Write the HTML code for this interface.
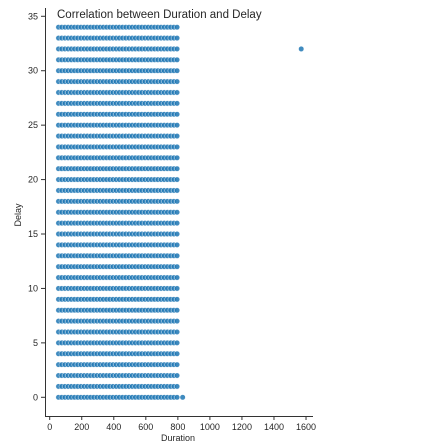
<!DOCTYPE html>
<html><head><meta charset="utf-8"><style>
body{margin:0;background:#fff;width:421px;height:447px;overflow:hidden}
svg{display:block;font-family:"Liberation Sans","DejaVu Sans",sans-serif}
</style></head><body>
<svg id="chart" width="421" height="447" viewBox="0 0 421 447">
<text x="57" y="18" font-size="11.5" fill="#262626">Correlation between Duration and Delay</text>
<line x1="45.5" y1="8" x2="45.5" y2="416" stroke="#333" stroke-width="1"/>
<line x1="45" y1="416.5" x2="313" y2="416.5" stroke="#333" stroke-width="1"/>
<text x="178" y="441" font-size="9" text-anchor="middle" fill="#262626">Duration</text>
<text transform="translate(21,215) rotate(-90)" font-size="9" text-anchor="middle" fill="#262626">Delay</text>
<g id="ticks"></g><g id="pts"></g>
</svg>
<script>
const xTicks=[0,200,400,600,800,1000,1200,1400,1600];
const yTicks=[0,5,10,15,20,25,30,35];
const delays=[0,1,2,3,4,5,6,7,8,9,10,11,12,13,14,15,16,17,18,19,20,21,22,23,24,25,26,27,28,29,30,31,32,33,34];
const durations=[55,75,95,115,135,155,175,195,215,235,255,275,295,315,335,355,375,395,415,435,455,475,495,515,535,555,575,595,615,635,655,675,695,715,735,755,775,795];
const extraX=[830,1570];
const extraY=[0,32];
const NS="http://www.w3.org/2000/svg";
function xs(v){return 49.7+v*0.1602;}
function ys(v){return 397.3-v*10.886;}
const tg=document.getElementById('ticks'),pg=document.getElementById('pts');
xTicks.forEach(t=>{
 const l=document.createElementNS(NS,'line');
 
 
 l.setAttribute('x1',xs(t));l.setAttribute('x2',xs(t));l.setAttribute('y1',416);l.setAttribute('y2',420);l.setAttribute('stroke','#333');tg.appendChild(l);
 const tx=document.createElementNS(NS,'text');
 
 
 tx.setAttribute('x',xs(t));tx.setAttribute('y',430);tx.setAttribute('font-size','9');tx.setAttribute('text-anchor','middle');tx.setAttribute('fill','#262626');tx.textContent=t;tg.appendChild(tx);
});
yTicks.forEach(t=>{
 const l=document.createElementNS(NS,'line');
 
 
 l.setAttribute('x1',41);l.setAttribute('x2',45);l.setAttribute('y1',ys(t));l.setAttribute('y2',ys(t));l.setAttribute('stroke','#333');tg.appendChild(l);
 const tx=document.createElementNS(NS,'text');
 
 
 tx.setAttribute('x',38);tx.setAttribute('y',ys(t)+3);tx.setAttribute('font-size','9');tx.setAttribute('text-anchor','end');tx.setAttribute('fill','#262626');tx.textContent=t;tg.appendChild(tx);
});
function dot(x,y){
 const c=document.createElementNS(NS,'circle');
 
 
 c.setAttribute('cx',xs(x));c.setAttribute('cy',ys(y));c.setAttribute('r','2.7');
 c.setAttribute('fill','#1f77b4');c.setAttribute('fill-opacity','0.85');c.setAttribute('stroke','#fff');c.setAttribute('stroke-width','0.4');
 pg.appendChild(c);
}
delays.forEach(d=>durations.forEach(v=>dot(v,d)));
extraX.forEach((v,i)=>dot(v,extraY[i]));
</script>
</body></html>
